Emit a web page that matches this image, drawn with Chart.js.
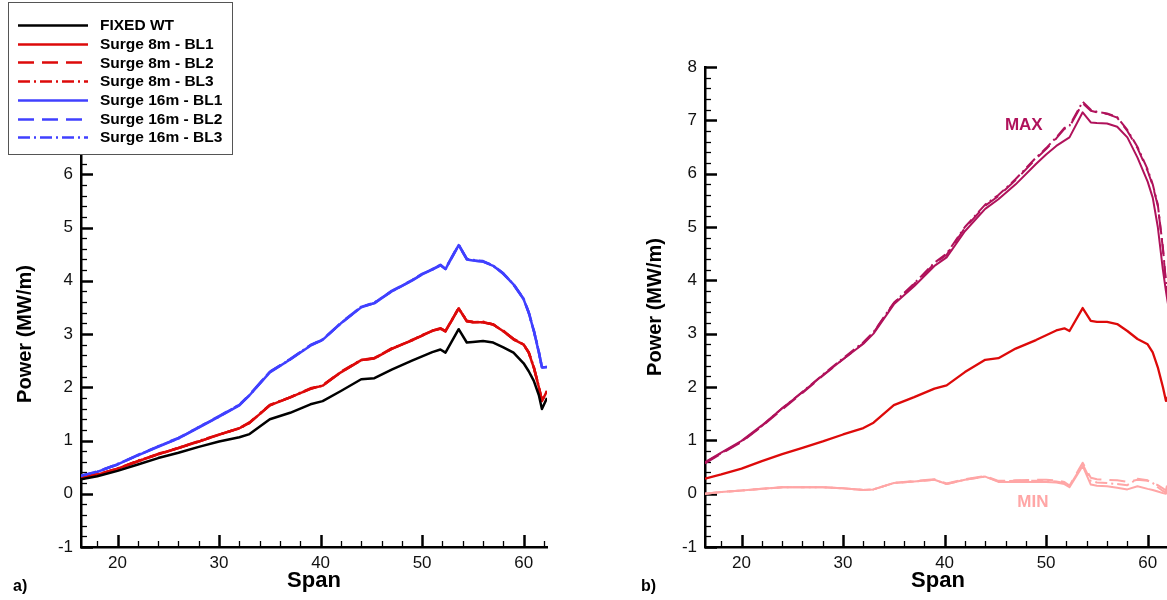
<!DOCTYPE html>
<html><head><meta charset="utf-8">
<script src="https://cdn.jsdelivr.net/npm/chart.js@4.4.1/dist/chart.umd.min.js"></script>
<style>
html,body{margin:0;padding:0;overflow:hidden;background:#fff;width:1167px;height:600px;position:relative;}
canvas{position:absolute;top:0;}
#cA{left:0;} #cB{left:600px;}
.lab{position:absolute;font:bold 16px "Liberation Sans",Arial,sans-serif;color:#000;line-height:16px;}
</style></head><body>
<canvas id="cA" width="600" height="600"></canvas>
<canvas id="cB" width="575" height="600"></canvas>
<div class="lab" style="left:13px;top:578px">a)</div>
<div class="lab" style="left:641px;top:578px">b)</div>
<script>
// ---------- data ----------
const span = [16.4, 18, 20, 22, 24, 26, 28, 30, 32, 33, 35, 37, 39, 40.2, 42, 44, 45.3, 47, 49, 50, 51, 51.8, 52.3, 53.6, 54.4, 55, 56, 57, 58, 59, 60, 60.5, 61, 61.5, 61.8, 62.3];

const fixedWT   = [0.27, 0.33, 0.43, 0.55, 0.67, 0.77, 0.88, 0.98, 1.06, 1.12, 1.40, 1.52, 1.68, 1.74, 1.93, 2.15, 2.17, 2.33, 2.50, 2.58, 2.66, 2.71, 2.65, 3.09, 2.84, 2.85, 2.87, 2.84, 2.75, 2.65, 2.45, 2.30, 2.12, 1.85, 1.59, 1.80];
const surge8BL1 = [0.28, 0.36, 0.47, 0.61, 0.74, 0.86, 0.98, 1.11, 1.23, 1.33, 1.66, 1.81, 1.97, 2.03, 2.28, 2.51, 2.54, 2.72, 2.88, 2.97, 3.06, 3.10, 3.05, 3.48, 3.24, 3.22, 3.22, 3.18, 3.05, 2.90, 2.80, 2.65, 2.37, 2.00, 1.74, 1.93];
const surge8BL2 = [0.28, 0.36, 0.47, 0.61, 0.75, 0.86, 0.98, 1.11, 1.23, 1.34, 1.66, 1.81, 1.97, 2.04, 2.28, 2.51, 2.55, 2.72, 2.89, 2.97, 3.06, 3.11, 3.05, 3.49, 3.24, 3.23, 3.22, 3.18, 3.06, 2.90, 2.80, 2.66, 2.37, 2.01, 1.75, 1.94];
const surge8BL3 = [0.28, 0.36, 0.47, 0.62, 0.74, 0.86, 0.99, 1.11, 1.23, 1.33, 1.67, 1.81, 1.98, 2.03, 2.29, 2.51, 2.54, 2.73, 2.88, 2.98, 3.06, 3.10, 3.06, 3.48, 3.25, 3.22, 3.23, 3.18, 3.05, 2.91, 2.80, 2.65, 2.38, 2.00, 1.74, 1.93];
const surge16BL1 = [0.33, 0.41, 0.55, 0.72, 0.88, 1.04, 1.24, 1.45, 1.66, 1.85, 2.28, 2.52, 2.78, 2.89, 3.20, 3.50, 3.58, 3.80, 4.00, 4.12, 4.21, 4.29, 4.22, 4.67, 4.40, 4.38, 4.36, 4.28, 4.13, 3.93, 3.65, 3.40, 3.06, 2.65, 2.37, 2.38];
const surge16BL2 = [0.33, 0.42, 0.55, 0.73, 0.89, 1.05, 1.25, 1.46, 1.67, 1.86, 2.29, 2.53, 2.79, 2.89, 3.21, 3.51, 3.58, 3.81, 4.01, 4.12, 4.22, 4.29, 4.23, 4.68, 4.41, 4.38, 4.36, 4.29, 4.13, 3.94, 3.66, 3.41, 3.07, 2.66, 2.38, 2.39];
const surge16BL3 = [0.34, 0.41, 0.56, 0.72, 0.89, 1.04, 1.25, 1.45, 1.67, 1.85, 2.29, 2.52, 2.79, 2.90, 3.20, 3.51, 3.59, 3.80, 4.01, 4.13, 4.21, 4.30, 4.22, 4.67, 4.41, 4.39, 4.37, 4.28, 4.14, 3.93, 3.66, 3.40, 3.06, 2.66, 2.37, 2.38];

const maxBL1 = [0.59, 0.77, 0.99, 1.28, 1.60, 1.90, 2.22, 2.52, 2.81, 3.00, 3.55, 3.89, 4.27, 4.43, 4.92, 5.34, 5.52, 5.80, 6.18, 6.36, 6.52, 6.62, 6.68, 7.15, 6.96, 6.95, 6.94, 6.88, 6.68, 6.30, 5.85, 5.55, 5.00, 4.20, 3.80, 3.20];
const maxBL2 = [0.57, 0.75, 0.97, 1.26, 1.58, 1.89, 2.21, 2.52, 2.82, 3.02, 3.57, 3.93, 4.31, 4.48, 4.98, 5.40, 5.58, 5.88, 6.28, 6.46, 6.66, 6.84, 6.88, 7.32, 7.18, 7.15, 7.12, 7.05, 6.80, 6.48, 6.05, 5.78, 5.40, 4.60, 3.95, 3.30];
const maxBL3 = [0.58, 0.76, 0.98, 1.27, 1.60, 1.91, 2.23, 2.54, 2.84, 3.03, 3.58, 3.94, 4.33, 4.50, 5.00, 5.42, 5.60, 5.90, 6.30, 6.48, 6.68, 6.86, 6.90, 7.35, 7.20, 7.16, 7.13, 7.06, 6.82, 6.50, 6.08, 5.80, 5.42, 4.62, 3.98, 3.32];
const minBL1 = [0.00, 0.03, 0.06, 0.09, 0.12, 0.12, 0.12, 0.10, 0.07, 0.08, 0.20, 0.23, 0.26, 0.18, 0.26, 0.32, 0.22, 0.22, 0.22, 0.22, 0.21, 0.18, 0.12, 0.52, 0.17, 0.15, 0.14, 0.11, 0.08, 0.14, 0.09, 0.07, 0.04, 0.01, 0.00, 0.40];
const minBL2 = [0.00, 0.03, 0.06, 0.09, 0.12, 0.12, 0.12, 0.10, 0.07, 0.08, 0.20, 0.24, 0.27, 0.19, 0.27, 0.33, 0.24, 0.25, 0.26, 0.26, 0.25, 0.22, 0.15, 0.58, 0.30, 0.27, 0.26, 0.25, 0.22, 0.26, 0.24, 0.20, 0.16, 0.10, 0.06, 0.50];
const minBL3 = [0.00, 0.03, 0.06, 0.09, 0.12, 0.12, 0.12, 0.10, 0.07, 0.08, 0.20, 0.23, 0.26, 0.18, 0.26, 0.32, 0.23, 0.24, 0.24, 0.24, 0.23, 0.20, 0.14, 0.55, 0.24, 0.21, 0.20, 0.18, 0.16, 0.28, 0.25, 0.20, 0.12, 0.05, 0.02, 0.45];

const xTicks = [20, 30, 40, 50, 60];
const yTicksA = [-1, 0, 1, 2, 3, 4, 5, 6, 7];
const yTicksB = [-1, 0, 1, 2, 3, 4, 5, 6, 7, 8];
const legendLabels = ['FIXED WT', 'Surge 8m - BL1', 'Surge 8m - BL2', 'Surge 8m - BL3', 'Surge 16m - BL1', 'Surge 16m - BL2', 'Surge 16m - BL3'];
const xTitle = 'Span';
const yTitle = 'Power (MW/m)';

// ---------- styles ----------
const FONT = '"Liberation Sans", Arial, Helvetica, sans-serif';
const BLACK = '#000000', RED = '#DD0A0A', BLUE = '#4040FF', MAXC = '#B0125B', MINC = '#FFA6A6';
const SOLID = [], DASH = [16, 8], DASHDOT = [12, 4, 2, 4];

const pts = arr => span.map((x, i) => ({x: x, y: arr[i]}));
const ds = (label, arr, color, dash, w) => ({label, data: pts(arr), borderColor: color, borderDash: dash, borderWidth: w, pointRadius: 0, fill: false, tension: 0, borderJoinStyle: 'round'});

const inwardTicks = {
  id: 'inwardTicks',
  beforeDatasetsDraw(chart) {
    const {ctx, chartArea: a, scales: {x, y}} = chart;
    ctx.save();
    ctx.strokeStyle = '#000';
    for (let k = Math.ceil(x.min / 2); k * 2 <= x.max; k++) {
      const v = k * 2, px = Math.round(x.getPixelForValue(v)) + 0.5, major = v % 10 === 0;
      ctx.lineWidth = major ? 2.5 : 1.3;
      ctx.beginPath(); ctx.moveTo(px, a.bottom); ctx.lineTo(px, a.bottom - (major ? 12 : 6)); ctx.stroke();
    }
    for (let k = Math.round(y.min * 5); k <= Math.round(y.max * 5); k++) {
      const py = Math.round(y.getPixelForValue(k / 5)) + 0.5, major = k % 5 === 0;
      ctx.lineWidth = major ? 2.5 : 1.3;
      ctx.beginPath(); ctx.moveTo(a.left, py); ctx.lineTo(a.left + (major ? 12 : 6), py); ctx.stroke();
    }
    ctx.restore();
  }
};

const boxLegend = {
  id: 'boxLegend',
  afterDraw(chart) {
    const ctx = chart.ctx;
    ctx.save();
    ctx.fillStyle = '#fff';
    ctx.fillRect(8, 2, 225, 153);
    ctx.strokeStyle = '#555'; ctx.lineWidth = 1;
    ctx.strokeRect(8.5, 2.5, 224, 152);
    chart.data.datasets.forEach((d, i) => {
      const y = 25 + i * 18.7;
      ctx.strokeStyle = d.borderColor; ctx.lineWidth = 2.5; ctx.setLineDash(d.borderDash);
      ctx.beginPath(); ctx.moveTo(18, Math.round(y) + 0.5); ctx.lineTo(88, Math.round(y) + 0.5); ctx.stroke();
      ctx.setLineDash([]);
      ctx.fillStyle = '#000'; ctx.font = 'bold 15.5px ' + FONT; ctx.textBaseline = 'middle'; ctx.textAlign = 'left';
      ctx.fillText(legendLabels[i], 100, y + 1);
    });
    ctx.restore();
  }
};

const annot = {
  id: 'annot',
  afterDatasetsDraw(chart) {
    const {ctx, scales: {x, y}} = chart;
    ctx.save();
    ctx.font = 'bold 17px ' + FONT; ctx.textAlign = 'center'; ctx.textBaseline = 'middle';
    ctx.fillStyle = MAXC; ctx.fillText('MAX', x.getPixelForValue(47.8), y.getPixelForValue(6.9));
    ctx.fillStyle = MINC; ctx.fillText('MIN', x.getPixelForValue(48.7), y.getPixelForValue(-0.16));
    ctx.restore();
  }
};

function makeOptions(yMin, yMax, yTicks, pad, yWidth) {
  return {
    responsive: false, animation: false, events: [],
    layout: {padding: pad},
    plugins: {legend: {display: false}, tooltip: {enabled: false}},
    scales: {
      x: {
        type: 'linear', min: 16.4, max: 62.3,
        afterBuildTicks: s => { s.ticks = xTicks.map(v => ({value: v})); },
        afterFit: s => { s.height = 53; },
        grid: {display: false, drawTicks: false},
        border: {display: true, color: '#000', width: 2.5},
        ticks: {font: {family: FONT, size: 17}, color: '#111', padding: 6, maxRotation: 0, autoSkip: false},
        title: {display: true, text: xTitle, color: '#000', font: {family: FONT, size: 22, weight: 'bold'}, padding: {top: 0, bottom: 6}}
      },
      y: {
        type: 'linear', min: yMin, max: yMax,
        afterBuildTicks: s => { s.ticks = yTicks.map(v => ({value: v})); },
        afterFit: s => { s.width = yWidth; },
        grid: {display: false, drawTicks: false},
        border: {display: true, color: '#000', width: 2.5},
        ticks: {font: {family: FONT, size: 17}, color: '#111', padding: 8, autoSkip: false},
        title: {display: true, text: yTitle, color: '#000', font: {family: FONT, size: 20, weight: 'bold'}, padding: {top: 13, bottom: 0}}
      }
    }
  };
}

new Chart(document.getElementById('cA'), {
  type: 'line',
  data: {datasets: [
    ds(legendLabels[0], fixedWT, BLACK, SOLID, 2.5),
    ds(legendLabels[1], surge8BL1, RED, SOLID, 2.5),
    ds(legendLabels[2], surge8BL2, RED, DASH, 2.5),
    ds(legendLabels[3], surge8BL3, RED, DASHDOT, 2.5),
    ds(legendLabels[4], surge16BL1, BLUE, SOLID, 2.5),
    ds(legendLabels[5], surge16BL2, BLUE, DASH, 2.5),
    ds(legendLabels[6], surge16BL3, BLUE, DASHDOT, 2.5)
  ]},
  options: makeOptions(-1, 7, yTicksA, {left: 0, top: 121, right: 53, bottom: 0}, 81),
  plugins: [inwardTicks, boxLegend]
});

new Chart(document.getElementById('cB'), {
  type: 'line',
  data: {datasets: [
    ds('MIN BL1', minBL1, MINC, SOLID, 2),
    ds('MIN BL2', minBL2, MINC, DASH, 2),
    ds('MIN BL3', minBL3, MINC, DASHDOT, 2),
    ds('Surge 8m - BL1', surge8BL1, RED, SOLID, 2.3),
    ds('MAX BL1', maxBL1, MAXC, SOLID, 2),
    ds('MAX BL2', maxBL2, MAXC, DASH, 2),
    ds('MAX BL3', maxBL3, MAXC, DASHDOT, 2)
  ]},
  options: makeOptions(-1, 8, yTicksB, {left: 30, top: 67, right: 4, bottom: 0}, 75),
  plugins: [inwardTicks, annot]
});
</script>
</body></html>
